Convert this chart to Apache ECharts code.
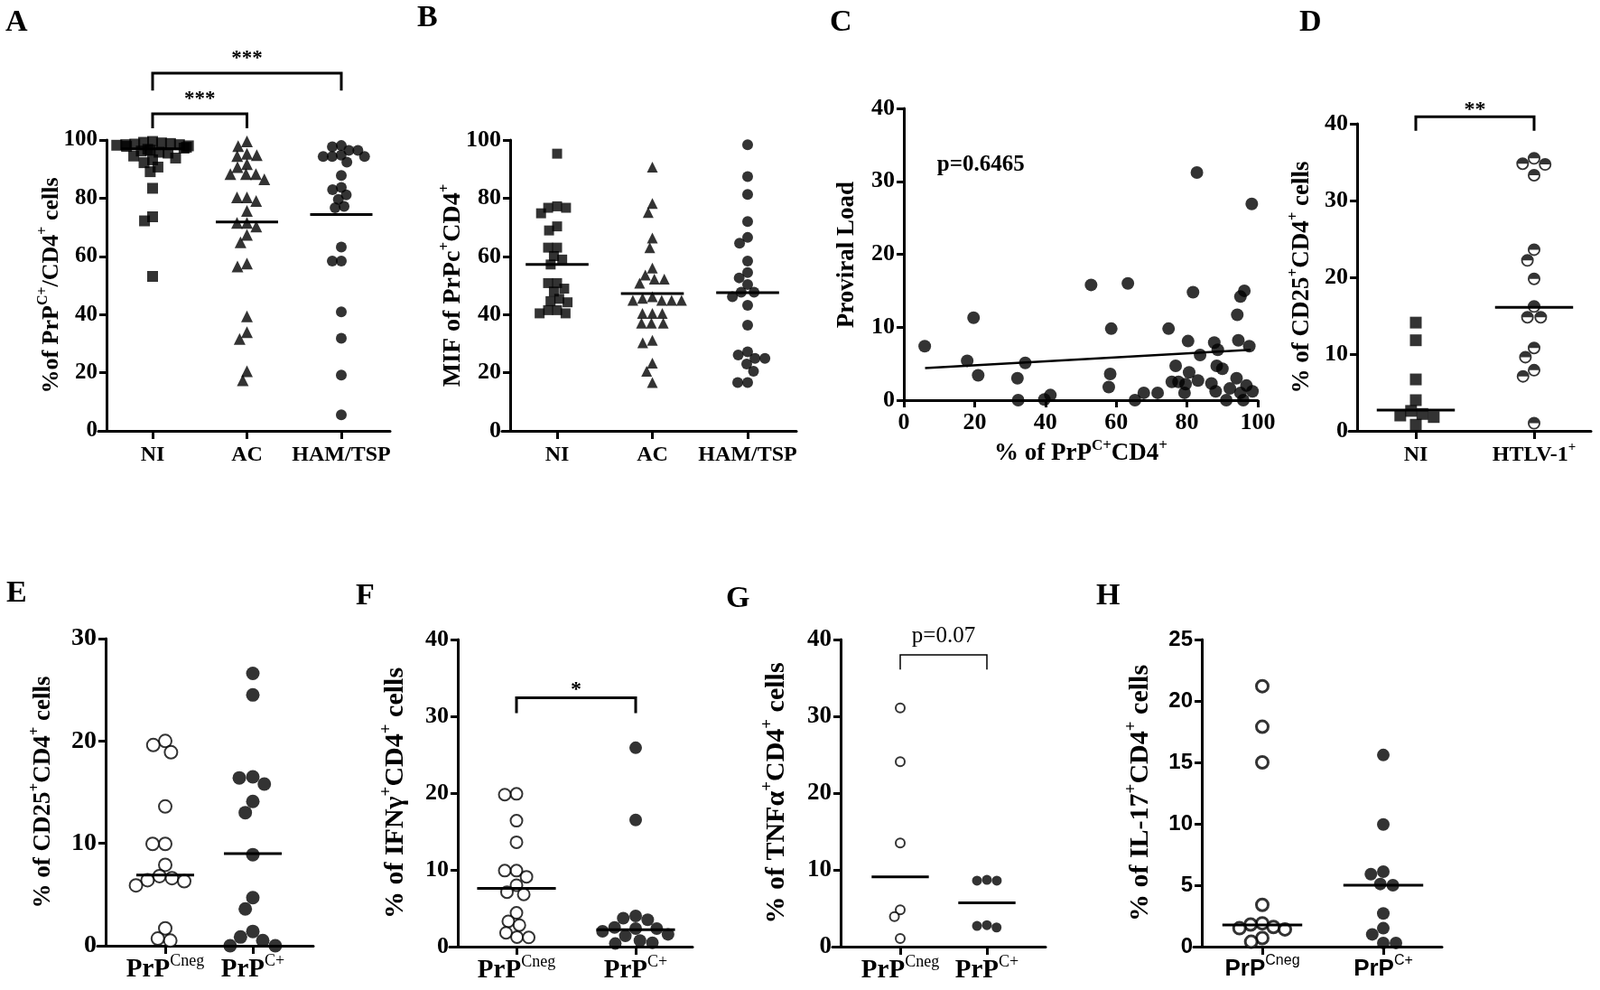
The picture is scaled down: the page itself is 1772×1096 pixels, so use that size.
<!DOCTYPE html>
<html lang="en">
<head>
<meta charset="UTF-8">
<title>PrPC CD4 panels</title>
<script src="https://cdn.jsdelivr.net/npm/echarts@6.0.0/dist/echarts.min.js"></script>
<style>
    html, body { margin: 0; padding: 0; background: #fff; }
    #main { width: 1772px; height: 1096px; }
</style>
</head>
<body>
<div id="main"></div>
<script>
// ---- data ----
var catsABC = ['NI', 'AC', 'HAM/TSP'];
var aNI = [99.5, 99.2, 99.0, 98.8, 98.6, 98.4, 98.4, 98.2, 98.0, 97.8, 97.5, 97.2, 96.8, 96.5, 96.2, 95.8, 95.5, 94.5, 93.8, 93.2, 92.2, 90.7, 89.1, 83.4, 73.6, 72.2, 53.1];
var aAC = [99.5, 97.9, 95.3, 94.8, 94.5, 91.7, 90.7, 88.3, 88.3, 88.3, 86.5, 80.3, 80.3, 79.0, 75.6, 71.5, 71.5, 70.3, 67.4, 64.8, 57.5, 56.5, 39.4, 33.9, 31.6, 20.5, 17.4];
var aHAM = [98.1, 97.7, 96.4, 96.4, 94.8, 94.3, 94.3, 94.3, 92.4, 87.8, 83.7, 82.9, 81.1, 79.6, 77.2, 76.7, 63.2, 58.4, 58.4, 40.9, 31.8, 19.2, 5.5];
var aMedian = [97.0, 71.8, 74.4];
var aBrackets = [[0, 2, 117, 123, '***'], [0, 1, 104, 109, '***']];

var bNI = [95.3, 77.2, 76.7, 76.7, 74.8, 70.3, 68.9, 63.0, 63.0, 60.1, 58.9, 57.2, 50.8, 50.8, 48.9, 47.9, 45.4, 44.6, 44.2, 41.5, 41.5, 40.4, 40.4];
var bAC = [90.7, 78.2, 75.1, 66.3, 63.0, 56.0, 53.6, 52.2, 52.2, 50.8, 46.1, 45.6, 44.9, 44.9, 44.9, 44.9, 40.4, 40.4, 40.4, 37.0, 37.0, 37.0, 31.1, 30.3, 23.3, 20.5, 16.6];
var bHAM = [98.4, 87.4, 81.3, 72.0, 66.5, 64.5, 58.4, 54.4, 52.6, 50.3, 47.7, 47.7, 46.1, 43.2, 36.3, 27.2, 26.1, 24.9, 24.9, 23.0, 20.5, 16.6, 16.6];
var bMedian = [57.2, 47.2, 47.5];

var cPoints = [[5.9, 7.4], [17.9, 5.4], [19.7, 11.3], [21.0, 3.4], [32.1, 3.0], [32.3, 0], [34.3, 5.1], [39.7, 0.1], [41.4, 0.7],
    [52.9, 15.8], [58.3, 3.6], [57.9, 1.8], [58.6, 9.8], [63.3, 16.0], [65.3, 0], [67.8, 1.0], [71.7, 1.0], [74.8, 9.8],
    [76.8, 4.7], [75.7, 2.5], [77.6, 2.5], [79.6, 2.2], [79.3, 1.0], [80.3, 8.1], [80.6, 3.8], [81.7, 14.8], [82.8, 31.2],
    [83.1, 2.7], [83.7, 6.2], [86.9, 2.3], [87.7, 7.9], [88.7, 6.9], [88.4, 4.7], [88.1, 1.2], [90.0, 4.3], [91.1, 0],
    [92.1, 1.6], [94.0, 3.0], [94.2, 11.7], [94.5, 8.2], [95.1, 14.2], [96.2, 15.0], [95.1, 1.0], [95.9, 0], [96.8, 2.0],
    [97.6, 7.4], [98.3, 26.9], [98.5, 1.2]];
var cFit = [[6, 4.4], [98, 6.9]];
var cNote = [[9.4, 32.3, 'p=0.6465']];

var catsD = ['NI', 'HTLV-1^{+}'];
var dNI = [14.1, 11.8, 6.7, 4.0, 2.6, 2.2, 2.0, 1.8, 0.8];
var dHTLV = [35.5, 34.8, 34.7, 33.3, 23.6, 22.2, 19.8, 16.2, 14.8, 14.8, 10.8, 9.6, 7.9, 7.1, 1.0];
var dMedian = [2.7, 16.1];
var dBrackets = [[0, 1, 39.1, 40.9, '**']];

var catsPrP = ['PrP^{Cneg}', 'PrP^{C+}'];
var eNeg = [20.0, 19.6, 18.9, 13.6, 9.95, 9.95, 7.9, 6.8, 6.6, 6.4, 6.3, 5.9, 1.7, 0.7, 0.5];
var ePos = [26.6, 24.5, 16.5, 16.4, 15.8, 14.1, 13.0, 8.9, 4.7, 3.6, 1.4, 0.85, 0.5, 0, 0];
var eMedian = [6.9, 9.0];

var fNeg = [19.9, 19.8, 16.4, 13.6, 9.9, 9.9, 9.1, 8.0, 7.1, 6.8, 4.4, 3.3, 2.8, 1.8, 1.25, 1.2];
var fPos = [25.9, 16.5, 4.0, 3.7, 3.5, 2.5, 2.35, 2.35, 2.0, 1.6, 1.4, 0.8, 0.5, 0.4];
var fMedian = [7.6, 2.2];
var fBrackets = [[0, 1, 30.4, 32.4, '*']];

var gNeg = [31.1, 24.1, 13.5, 4.8, 3.9, 1.05];
var gPos = [8.7, 8.6, 8.6, 2.8, 2.7, 2.5];
var gMedian = [9.1, 5.7];
var gBrackets = [[0, 1, 36.1, 38.0, 'p=0.07']];

var hNeg = [21.2, 17.9, 15.0, 3.4, 1.9, 1.8, 1.6, 1.5, 1.4, 0.7, 0.4];
var hPos = [15.6, 9.95, 6.1, 5.9, 5.1, 5.0, 2.7, 1.5, 1.0, 0.3, 0.3];
var hMedian = [1.76, 5.0];

// ---- drawing ----
var serif = 'Liberation Serif';
var sans = 'Liberation Sans';
var ext = 9; // x axis line sticks out left of the y axis
var axisStroke = {color: '#000', width: 3};
var halfDot = 'path://M0,10A10,10,0,1,1,20,10A10,10,0,1,1,0,10ZM17.4,10L2.6,10A7.4,7.4,0,0,0,17.4,10Z';
var filled = {color: '#000'};
var open = {color: '#fff', borderColor: '#000', borderWidth: 2};

var grids = [], xAxes = [], yAxes = [], series = [], titles = [], graphics = [];

function richStyles(fs, family, supWeight) {
    return {
        b: {fontFamily: family, fontWeight: 'bold', fontSize: fs, lineHeight: Math.round(fs * 1.3), fill: '#000', color: '#000'},
        s: {fontFamily: family, fontWeight: supWeight, fontSize: Math.round(fs * 0.62), verticalAlign: 'top', fill: '#000', color: '#000'}
    };
}

// 'CD4^{+}' -> '{b|CD4}{s|+}'
function toRich(str) {
    var parts = String(str).split(/\^\{([^}]*)\}/);
    var out = '';
    parts.forEach(function (p, i) {
        if (p) out += (i % 2 ? '{s|' : '{b|') + p + '}';
    });
    return out;
}

// rotated y axis title, centred on (cx, cy)
function addYTitle(str, cx, cy, fs) {
    graphics.push({type: 'text', x: cx, y: cy, rotation: Math.PI / 2, silent: true, z: 10,
        style: {text: toRich(str), rich: richStyles(fs, serif, 'bold'),
            fontFamily: serif, fontWeight: 'bold', fontSize: fs, fill: '#000',
            align: 'center', verticalAlign: 'middle'}});
}

function medianSeries(xi, yi, meds) {
    return {
        type: 'custom', xAxisIndex: xi, yAxisIndex: yi, silent: true, clip: false, z: 5,
        data: meds.map(function (m, i) { return [i, m]; }),
        renderItem: function (params, api) {
            var p = api.coord([api.value(0), api.value(1)]);
            var hw = api.size([1, 0])[0] * 0.33;
            return {type: 'line', shape: {x1: p[0] - hw, y1: p[1], x2: p[0] + hw, y2: p[1]},
                style: {stroke: '#000', lineWidth: 3}};
        }
    };
}

function bracketSeries(xi, yi, list, st) {
    return {
        type: 'custom', xAxisIndex: xi, yAxisIndex: yi, silent: true, clip: false, z: 5,
        encode: {x: [0, 1], y: [2, 3]},
        data: list.map(function (b) { return [b[0], b[1], b[2], b[3]]; }),
        renderItem: function (params, api) {
            var a0 = api.coord([api.value(0), api.value(2)]);
            var a1 = api.coord([api.value(0), api.value(3)]);
            var c0 = api.coord([api.value(1), api.value(2)]);
            var c1 = api.coord([api.value(1), api.value(3)]);
            return {type: 'group', children: [
                {type: 'polyline', shape: {points: [a0, a1, c1, c0]},
                    style: {stroke: '#000', lineWidth: st.lw, fill: 'none'}},
                {type: 'text', x: (a1[0] + c1[0]) / 2, y: a1[1] - st.gap,
                    style: {text: list[params.dataIndex][4], fill: '#000', fontFamily: serif,
                        fontWeight: st.weight, fontSize: st.size, align: 'center', verticalAlign: 'bottom'}}
            ]};
        }
    };
}

function addLetter(t, left, top) {
    titles.push({text: t, left: left, top: top, padding: 0,
        textStyle: {fontFamily: serif, fontWeight: 'bold', fontSize: 34, color: '#000'}});
}

function addCatPanel(L, cats, groups, medians, brackets, bst, yTitle) {
    var h = L.bottom - L.top;
    var n = cats.length;
    var s = (L.centers[n - 1] - L.centers[0]) / (n - 1);
    // frame grid: axis lines and y ticks
    grids.push({left: L.axisX - ext, top: L.top, width: L.xEnd - (L.axisX - ext), height: h, outerBoundsMode: 'none'});
    var f = grids.length - 1;
    xAxes.push({gridIndex: f, type: 'value', min: 0, max: 1,
        axisLine: {show: true, onZero: false, lineStyle: axisStroke},
        axisTick: {show: false}, axisLabel: {show: false}, splitLine: {show: false}});
    yAxes.push({gridIndex: f, type: 'value', min: 0, max: L.max, interval: L.interval, offset: -ext,
        axisLine: {show: true, onZero: false, lineStyle: axisStroke},
        axisTick: {show: true, length: 8, lineStyle: axisStroke},
        axisLabel: {color: '#000', fontFamily: L.tickFont || serif, fontWeight: 'bold', fontSize: L.tickSize, margin: 10},
        splitLine: {show: false}});
    addYTitle(yTitle, L.titleCenter, (L.top + L.bottom) / 2, L.titleSize);
    // plot grid: categories and points
    grids.push({left: L.centers[0] - s / 2, top: L.top, width: n * s, height: h, outerBoundsMode: 'none'});
    var p = grids.length - 1;
    var catFont = L.catFont || serif;
    xAxes.push({gridIndex: p, type: 'category', data: cats,
        jitter: s * 0.95, jitterOverlap: false, jitterMargin: L.jitterMargin || 0,
        axisLine: {show: false},
        axisTick: {show: true, alignWithLabel: true, length: 9, lineStyle: axisStroke},
        axisLabel: {interval: 0, margin: L.catMargin, formatter: toRich,
            fontFamily: catFont, fontWeight: 'bold', fontSize: L.catSize, color: '#000',
            rich: richStyles(L.catSize, catFont, L.supWeight || 'bold')},
        splitLine: {show: false}});
    yAxes.push({gridIndex: p, type: 'value', min: 0, max: L.max, show: false});
    var xi = xAxes.length - 1, yi = yAxes.length - 1;
    groups.forEach(function (g) {
        series.push({type: 'scatter', xAxisIndex: xi, yAxisIndex: yi, silent: true, clip: false, z: 3,
            symbol: g.symbol, symbolSize: g.size, itemStyle: g.style,
            data: g.values.map(function (v) { return [g.cat, v]; })});
    });
    series.push(medianSeries(xi, yi, medians));
    if (brackets) series.push(bracketSeries(xi, yi, brackets, bst));
}

// A
addLetter('A', 6, 8);
addCatPanel({axisX: 118, xEnd: 432, top: 155, bottom: 477, centers: [169, 273, 378], max: 100, interval: 20,
        tickSize: 25, catSize: 24, titleSize: 26, titleCenter: 57, catMargin: 11, jitterMargin: -2},
    catsABC,
    [{cat: 0, values: aNI, symbol: 'rect', size: 12, style: filled},
        {cat: 1, values: aAC, symbol: 'triangle', size: 13, style: filled},
        {cat: 2, values: aHAM, symbol: 'circle', size: 12, style: filled}],
    aMedian, aBrackets, {lw: 3, gap: 4, size: 23, weight: 'bold'},
    '%of PrP^{C+}/CD4^{+} cells');

// B
addLetter('B', 462, 3);
addCatPanel({axisX: 565, xEnd: 882, top: 155, bottom: 477, centers: [617, 722, 828], max: 100, interval: 20,
        tickSize: 26, catSize: 24, titleSize: 28, titleCenter: 502, catMargin: 11, jitterMargin: -1},
    catsABC,
    [{cat: 0, values: bNI, symbol: 'rect', size: 11, style: filled},
        {cat: 1, values: bAC, symbol: 'triangle', size: 12, style: filled},
        {cat: 2, values: bHAM, symbol: 'circle', size: 12, style: filled}],
    bMedian, null, null,
    'MIF of PrPc^{+}CD4^{+}');

// C
addLetter('C', 919, 8);
grids.push({left: 1001, top: 120, width: 392, height: 323, outerBoundsMode: 'none'});
xAxes.push({gridIndex: grids.length - 1, type: 'value', min: 0, max: 100, interval: 20,
    axisLine: {show: true, onZero: false, lineStyle: axisStroke},
    axisTick: {show: true, length: 8, lineStyle: axisStroke},
    axisLabel: {color: '#000', fontFamily: serif, fontWeight: 'bold', fontSize: 26, margin: 12},
    splitLine: {show: false},
    name: toRich('% of PrP^{C+}CD4^{+}'), nameLocation: 'middle', nameGap: 42, nameMoveOverlap: false,
    nameTextStyle: {fontFamily: serif, fontWeight: 'bold', fontSize: 27, color: '#000',
        rich: richStyles(27, serif, 'bold')}});
yAxes.push({gridIndex: grids.length - 1, type: 'value', min: 0, max: 40, interval: 10,
    axisLine: {show: true, onZero: false, lineStyle: axisStroke},
    axisTick: {show: true, length: 8, lineStyle: axisStroke},
    axisLabel: {color: '#000', fontFamily: serif, fontWeight: 'bold', fontSize: 26, margin: 10},
    splitLine: {show: false}});
addYTitle('Proviral Load', 938, 282, 27);
(function () {
    var xi = xAxes.length - 1, yi = yAxes.length - 1;
    series.push({type: 'scatter', xAxisIndex: xi, yAxisIndex: yi, silent: true, clip: false, z: 3,
        symbol: 'circle', symbolSize: 14, itemStyle: filled, data: cPoints});
    series.push({type: 'line', xAxisIndex: xi, yAxisIndex: yi, silent: true, z: 4, symbol: 'none',
        lineStyle: {color: '#000', width: 2.5}, data: cFit});
    series.push({type: 'custom', xAxisIndex: xi, yAxisIndex: yi, silent: true, clip: false, z: 5,
        data: cNote.map(function (d) { return [d[0], d[1]]; }),
        renderItem: function (params, api) {
            var p = api.coord([api.value(0), api.value(1)]);
            return {type: 'text', x: p[0], y: p[1], style: {text: cNote[params.dataIndex][2], fill: '#000',
                fontFamily: serif, fontWeight: 'bold', fontSize: 25, align: 'left', verticalAlign: 'middle'}};
        }});
})();

// D
addLetter('D', 1439, 8);
addCatPanel({axisX: 1503, xEnd: 1762, top: 137, bottom: 477, centers: [1568, 1699], max: 40, interval: 10,
        tickSize: 26, catSize: 24, titleSize: 27, titleCenter: 1442, catMargin: 11},
    catsD,
    [{cat: 0, values: dNI, symbol: 'rect', size: 13, style: filled},
        {cat: 1, values: dHTLV, symbol: halfDot, size: 14, style: filled}],
    dMedian, dBrackets, {lw: 3, gap: -4, size: 24, weight: 'bold'},
    '% of CD25^{+}CD4^{+} cells');

// E
addLetter('E', 7, 640);
addCatPanel({axisX: 117, xEnd: 347, top: 707, bottom: 1047, centers: [183, 280], max: 30, interval: 10,
        tickSize: 28, catSize: 29, titleSize: 27, titleCenter: 48, supWeight: 'normal', catMargin: 8},
    catsPrP,
    [{cat: 0, values: eNeg, symbol: 'circle', size: 14, style: open},
        {cat: 1, values: ePos, symbol: 'circle', size: 15, style: filled}],
    eMedian, null, null,
    '% of CD25^{+}CD4^{+} cells');

// F
addLetter('F', 394, 643);
addCatPanel({axisX: 507, xEnd: 767, top: 708, bottom: 1048, centers: [572, 704], max: 40, interval: 10,
        tickSize: 26, catSize: 29, titleSize: 30, titleCenter: 438, supWeight: 'normal', catMargin: 8},
    catsPrP,
    [{cat: 0, values: fNeg, symbol: 'circle', size: 13, style: open},
        {cat: 1, values: fPos, symbol: 'circle', size: 14, style: filled}],
    fMedian, fBrackets, {lw: 3, gap: -3, size: 24, weight: 'bold'},
    '% of IFNγ^{+}CD4^{+} cells');

// G
addLetter('G', 804, 646);
addCatPanel({axisX: 931, xEnd: 1158, top: 708, bottom: 1048, centers: [997, 1093], max: 40, interval: 10,
        tickSize: 27, catSize: 29, titleSize: 30, titleCenter: 860, supWeight: 'normal', catMargin: 8},
    catsPrP,
    [{cat: 0, values: gNeg, symbol: 'circle', size: 10, style: open},
        {cat: 1, values: gPos, symbol: 'circle', size: 11, style: filled}],
    gMedian, gBrackets, {lw: 1.5, gap: 8, size: 25, weight: 'normal'},
    '% of TNFα^{+}CD4^{+} cells');

// H
addLetter('H', 1214, 643);
addCatPanel({axisX: 1331, xEnd: 1597, top: 708, bottom: 1048, centers: [1398, 1532], max: 25, interval: 5,
        tickSize: 24, tickFont: sans, catSize: 26, catFont: sans, titleSize: 30, titleCenter: 1263,
        supWeight: 'normal', catMargin: 8},
    catsPrP,
    [{cat: 0, values: hNeg, symbol: 'circle', size: 13, style: {color: '#fff', borderColor: '#000', borderWidth: 3}},
        {cat: 1, values: hPos, symbol: 'circle', size: 14, style: filled}],
    hMedian, null, null,
    '% of IL-17^{+}CD4^{+} cells');

var myChart = echarts.init(document.getElementById('main'));
myChart.setOption({
    animation: false,
    backgroundColor: '#fff',
    title: titles,
    graphic: graphics,
    grid: grids,
    xAxis: xAxes,
    yAxis: yAxes,
    series: series
});
</script>
</body>
</html>
